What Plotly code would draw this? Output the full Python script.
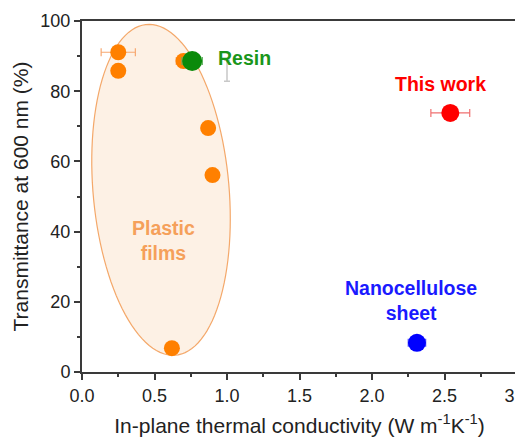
import numpy as np
import plotly.graph_objects as go

# Data
plastic_x = [0.25, 0.25, 0.70, 0.87, 0.90, 0.62]
plastic_y = [91.1, 85.8, 88.6, 69.5, 56.1, 6.8]
plastic_xerr = [0.118, 0.0, 0.05, 0.0, 0.0, 0.0]
resin_x = [0.76]
resin_y = [88.6]
resin_xerr = [0.07]
gray_x = [1.0]
gray_y = [85.8]
gray_yerr = [3.0]
thiswork_x = [2.54]
thiswork_y = [73.8]
thiswork_xerr = [0.134]
nano_x = [2.31]
nano_y = [8.3]
nano_xerr = [0.06]

x_ticks = [0.0, 0.5, 1.0, 1.5, 2.0, 2.5, 3.0]
x_ticklabels = ["0.0", "0.5", "1.0", "1.5", "2.0", "2.5", "3.0"]
y_ticks = [0, 20, 40, 60, 80, 100]

W, H = 523, 437
ml, mr, mt, mb = 74, 14, 13, 73
pw, ph = W - ml - mr, H - mt - mb
sx = pw / 3.0
sy = ph / 100.0

FONT = "Arial"

fig = go.Figure()

# Ellipse region (plastic films)
cx_d, cy_d = 0.545, 51.9
a, b, th = 166.0, 68.0, np.deg2rad(5)
t = np.linspace(0, 2 * np.pi, 120)
u = b * np.cos(t)
v = a * np.sin(t)
px = u * np.cos(th) - v * np.sin(th)
py = u * np.sin(th) + v * np.cos(th)
ex = cx_d + px / sx
ey = cy_d + py / sy
path = "M " + " L ".join(f"{x:.4f},{y:.3f}" for x, y in zip(ex, ey)) + " Z"
fig.add_shape(type="path", path=path, xref="x", yref="y",
              fillcolor="rgba(251,231,212,0.6)",
              line=dict(color="#f4a86a", width=1.2), layer="below")

fig.add_trace(go.Scatter(
    x=gray_x, y=gray_y, mode="markers",
    marker=dict(size=1, color="rgba(0,0,0,0)"),
    error_y=dict(type="data", array=gray_yerr, color="#c8c8c8", thickness=1.5, width=3),
    hoverinfo="skip", showlegend=False))

fig.add_trace(go.Scatter(
    x=plastic_x, y=plastic_y, mode="markers",
    marker=dict(size=16, color="#ff8000"),
    error_x=dict(type="data", array=plastic_xerr, color="#f7a870", thickness=1.2, width=4),
    showlegend=False))

fig.add_trace(go.Scatter(
    x=resin_x, y=resin_y, mode="markers",
    marker=dict(size=20, color="#0a8a0a"),
    error_x=dict(type="data", array=resin_xerr, color="#60b060", thickness=1.2, width=4),
    showlegend=False))

fig.add_trace(go.Scatter(
    x=thiswork_x, y=thiswork_y, mode="markers",
    marker=dict(size=18, color="#ff0000"),
    error_x=dict(type="data", array=thiswork_xerr, color="#f07070", thickness=1.2, width=4),
    showlegend=False))

fig.add_trace(go.Scatter(
    x=nano_x, y=nano_y, mode="markers",
    marker=dict(size=18, color="#0000ff"),
    error_x=dict(type="data", array=nano_xerr, color="#5050ff", thickness=1.2, width=4),
    showlegend=False))

ann_font = dict(family=FONT, size=19.5)
fig.add_annotation(x=0.925, y=89.5, text="<b>Resin</b>", showarrow=False, xanchor="left",
                   font=dict(**ann_font, color="#1a961a"))
fig.add_annotation(x=2.47, y=82.0, text="<b>This work</b>", showarrow=False,
                   font=dict(**ann_font, color="#ff0000"))
fig.add_annotation(x=2.27, y=20.5, text="<b>Nanocellulose<br>sheet</b>", showarrow=False,
                   font=dict(**ann_font, color="#1a1aff"))
fig.add_annotation(x=0.56, y=37.5, text="<b>Plastic<br>films</b>", showarrow=False,
                   font=dict(**ann_font, color="#f5a05a"))

axis_common = dict(
    showline=True, linecolor="#3a3a3a", linewidth=2, mirror=True,
    ticks="outside", tickcolor="#3a3a3a", tickwidth=1.5, ticklen=6,
    showgrid=False, zeroline=False, automargin=False,
    tickfont=dict(family=FONT, size=18, color="#222222"),
)

fig.update_xaxes(
    range=[0, 3.0], tickvals=x_ticks, ticktext=x_ticklabels,
    minor=dict(dtick=0.25, ticks="outside", ticklen=3, tickcolor="#3a3a3a", tickwidth=1.5),
    title=dict(text="In-plane thermal conductivity (W m<sup>-1</sup>K<sup>-1</sup>)",
               font=dict(family=FONT, size=21, color="#222222"), standoff=14),
    **axis_common)
fig.update_yaxes(
    range=[0, 100], tickvals=y_ticks,
    minor=dict(dtick=10, ticks="outside", ticklen=3, tickcolor="#3a3a3a", tickwidth=1.5),
    title=dict(text="Transmittance at 600 nm (%)",
               font=dict(family=FONT, size=21, color="#222222"), standoff=6),
    **axis_common)

fig.update_layout(
    width=W, height=H,
    margin=dict(l=ml, r=mr, t=mt, b=mb),
    paper_bgcolor="white", plot_bgcolor="white",
    showlegend=False,
)

fig.write_html("out.html")
